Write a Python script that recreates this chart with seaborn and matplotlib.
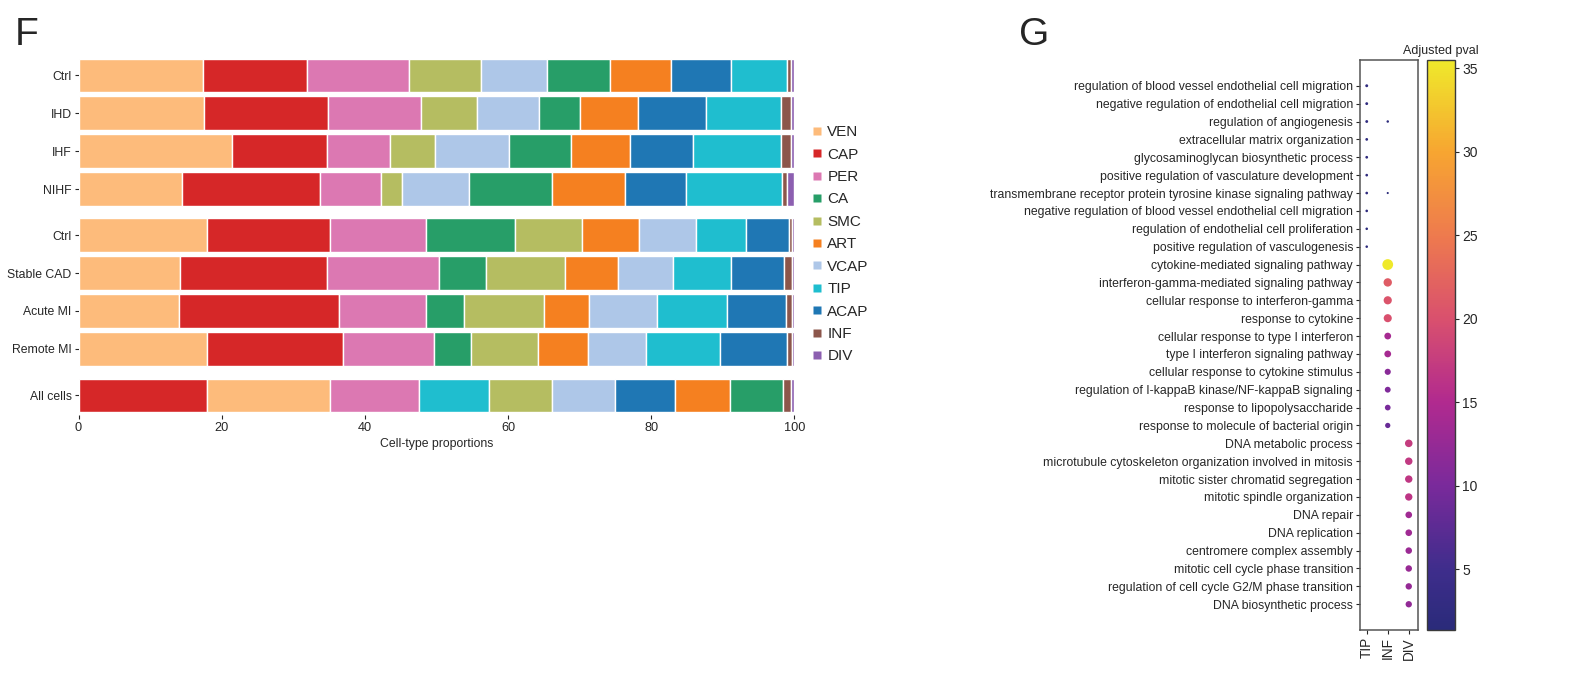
import numpy as np
import pandas as pd
import matplotlib
matplotlib.use("Agg")
import matplotlib.pyplot as plt
import seaborn as sns
from matplotlib.lines import Line2D
from matplotlib.colors import Normalize, LinearSegmentedColormap
from matplotlib.cm import ScalarMappable

# ---------------------------------------------------------------- data
cell_types = ["VEN", "CAP", "PER", "CA", "SMC", "ART", "VCAP", "TIP", "ACAP", "INF", "DIV"]
type_colors = ["#fdbb7b", "#d62728", "#dc78b2", "#279e68", "#b5bd61", "#f58020",
               "#aec7e8", "#1fbecf", "#1f77b4", "#8c564b", "#8c5fb0"]

# heart-failure cohort (stack order shared by its four conditions)
hf_order = ["VEN", "CAP", "PER", "SMC", "VCAP", "CA", "ART", "ACAP", "TIP", "INF", "DIV"]
hf_ctrl = [17.4, 14.5, 14.3, 10.1, 9.2, 8.8, 8.5, 8.4, 7.8, 0.5, 0.5]
hf_ihd = [17.6, 17.2, 13.0, 7.9, 8.6, 5.8, 8.1, 9.5, 10.5, 1.3, 0.5]
hf_ihf = [21.4, 13.3, 8.8, 6.3, 10.4, 8.6, 8.3, 8.8, 12.2, 1.5, 0.4]
hf_nihf = [14.5, 19.2, 8.5, 3.0, 9.3, 11.6, 10.2, 8.6, 13.4, 0.7, 1.0]

# myocardial-infarction cohort
mi_order = ["VEN", "CAP", "PER", "CA", "SMC", "ART", "VCAP", "TIP", "ACAP", "INF", "DIV"]
mi_ctrl = [18.0, 17.2, 13.3, 12.5, 9.3, 8.0, 7.9, 7.0, 6.1, 0.4, 0.3]
mi_stable_cad = [14.2, 20.5, 15.7, 6.5, 11.0, 7.5, 7.6, 8.1, 7.4, 1.2, 0.3]
mi_acute = [14.0, 22.4, 12.2, 5.3, 11.2, 6.2, 9.5, 9.8, 8.3, 0.8, 0.3]
mi_remote = [17.9, 19.1, 12.6, 5.3, 9.3, 7.0, 8.1, 10.3, 9.4, 0.7, 0.3]

# pooled
all_order = ["CAP", "VEN", "PER", "TIP", "SMC", "VCAP", "ACAP", "ART", "CA", "INF", "DIV"]
all_cells = [17.9, 17.2, 12.4, 9.8, 8.9, 8.8, 8.3, 7.7, 7.4, 1.1, 0.5]

row_labels = ["Ctrl", "IHD", "IHF", "NIHF", "Ctrl", "Stable CAD", "Acute MI", "Remote MI", "All cells"]

# GO enrichment per cell type (-log10 adjusted p)
tip_terms = ["regulation of blood vessel endothelial cell migration",
             "negative regulation of endothelial cell migration",
             "regulation of angiogenesis",
             "extracellular matrix organization",
             "glycosaminoglycan biosynthetic process",
             "positive regulation of vasculature development",
             "transmembrane receptor protein tyrosine kinase signaling pathway",
             "negative regulation of blood vessel endothelial cell migration",
             "regulation of endothelial cell proliferation",
             "positive regulation of vasculogenesis"]
tip_scores = [2.6, 2.5, 2.5, 2.3, 2.3, 2.2, 2.2, 2.1, 2.0, 2.0]

inf_terms = ["cytokine-mediated signaling pathway",
             "interferon-gamma-mediated signaling pathway",
             "cellular response to interferon-gamma",
             "response to cytokine",
             "cellular response to type I interferon",
             "type I interferon signaling pathway",
             "cellular response to cytokine stimulus",
             "regulation of I-kappaB kinase/NF-kappaB signaling",
             "response to lipopolysaccharide",
             "response to molecule of bacterial origin"]
inf_scores = [35.5, 21.5, 20.5, 20.0, 14.0, 14.0, 11.5, 10.5, 10.0, 8.5]

div_terms = ["DNA metabolic process",
             "microtubule cytoskeleton organization involved in mitosis",
             "mitotic sister chromatid segregation",
             "mitotic spindle organization",
             "DNA repair",
             "DNA replication",
             "centromere complex assembly",
             "mitotic cell cycle phase transition",
             "regulation of cell cycle G2/M phase transition",
             "DNA biosynthetic process"]
div_scores = [17.5, 17.0, 16.8, 16.5, 13.5, 13.5, 13.0, 12.8, 12.5, 12.3]

inf_extra_terms = ["regulation of angiogenesis",
                   "transmembrane receptor protein tyrosine kinase signaling pathway"]
inf_extra_scores = [1.9, 1.37]

dot_groups = ["TIP", "INF", "DIV"]

# muted plasma-like ramp used for the enrichment scores
score_cmap = LinearSegmentedColormap.from_list(
    "muted_plasma",
    [(0.0, "#2a2b7a"), (0.106, "#3f2d8c"), (0.253, "#7a2a9b"), (0.399, "#b12a8f"),
     (0.546, "#d9506e"), (0.692, "#ee7a4e"), (0.839, "#f7a531"), (1.0, "#efe92b")])

# ---------------------------------------------------------------- style
sns.set_theme(style="ticks")
plt.rcParams["font.family"] = ["Liberation Sans", "DejaVu Sans"]
plt.rcParams.update({
    "text.color": "#262626", "axes.labelcolor": "#262626",
    "xtick.color": "#262626", "ytick.color": "#262626",
    "axes.edgecolor": "#3a3a3a",
})
SMALL = 8.8

fig = plt.figure(figsize=(15.71, 6.74), dpi=100)

# ---------------------------------------------------------------- panel F
ax = fig.add_axes([78.5 / 1571, 1 - 415 / 674, (794.3 - 78.5) / 1571, (415 - 57) / 674])
color_of = dict(zip(cell_types, type_colors))
rows = [(hf_order, hf_ctrl), (hf_order, hf_ihd), (hf_order, hf_ihf), (hf_order, hf_nihf),
        (mi_order, mi_ctrl), (mi_order, mi_stable_cad), (mi_order, mi_acute), (mi_order, mi_remote),
        (all_order, all_cells)]
y_pos = [0, 1, 2, 3, 4.21, 5.21, 6.21, 7.21, 8.43]

for yp, (order, vals) in zip(y_pos, rows):
    left = np.concatenate([[0], np.cumsum(vals)[:-1]])
    ax.barh([yp] * len(vals), vals, left=left, height=0.88,
            color=[color_of[c] for c in order], edgecolor="white", linewidth=1.0)

ax.set_xlim(0, 100)
ax.set_ylim(8.95, -0.48)
ax.set_yticks(y_pos)
ax.set_yticklabels(row_labels, fontsize=SMALL)
ax.set_xticks([0, 20, 40, 60, 80, 100])
ax.tick_params(axis="x", labelsize=SMALL + 0.4, length=3, width=0.8, pad=2)
ax.tick_params(axis="y", length=3, width=0.8, pad=2)
ax.set_xlabel("Cell-type proportions", fontsize=SMALL, labelpad=3)
for s in ax.spines.values():
    s.set_visible(False)

handles = [Line2D([0], [0], marker="s", linestyle="none", markersize=5.5,
                  markerfacecolor=c, markeredgecolor="none") for c in type_colors]
fig.legend(handles, cell_types, loc="center left", bbox_to_anchor=(810.5 / 1571, 1 - 244.3 / 674),
           frameon=False, fontsize=11, handlelength=0.8, handletextpad=0.3,
           labelspacing=0.55, borderpad=0, borderaxespad=0)

fig.text(15 / 1571, 1 - 45 / 674, "F", fontsize=28, va="baseline", ha="left")
fig.text(1019 / 1571, 1 - 45 / 674, "G", fontsize=28, va="baseline", ha="left")

# ---------------------------------------------------------------- panel G
dots = pd.DataFrame({
    "term": tip_terms + inf_terms + div_terms + inf_extra_terms,
    "group": ["TIP"] * len(tip_terms) + ["INF"] * len(inf_terms) + ["DIV"] * len(div_terms)
             + ["INF"] * len(inf_extra_terms),
    "score": tip_scores + inf_scores + div_scores + inf_extra_scores,
})
term_order = tip_terms + inf_terms + div_terms
dots["row"] = dots["term"].map({t: i for i, t in enumerate(term_order)})
dots["col"] = dots["group"].map({g: i for i, g in enumerate(dot_groups)})

vmin, vmax = dots["score"].min(), dots["score"].max()
axg = fig.add_axes([1360 / 1571, 1 - 630 / 674, (1418 - 1360) / 1571, (630 - 60) / 674])
sns.scatterplot(data=dots, x="col", y="row", hue="score", size="score",
                palette=score_cmap, hue_norm=(vmin, vmax),
                sizes=(0, 61), size_norm=(0, 36), linewidth=0, legend=False, ax=axg)
axg.set_xlim(-0.32, 2.44)
axg.set_ylim(30.44, -1.44)
axg.set_yticks(range(len(term_order)))
axg.set_yticklabels(term_order, fontsize=SMALL)
axg.set_xticks(range(len(dot_groups)))
axg.set_xticklabels(dot_groups, fontsize=9.8, rotation=90)
axg.set_xlabel("")
axg.set_ylabel("")
axg.tick_params(length=3, width=0.8, pad=2)
for s in axg.spines.values():
    s.set_color("#555555")
    s.set_linewidth(1.1)

cax = fig.add_axes([1427 / 1571, 1 - 630 / 674, (1455 - 1427) / 1571, (630 - 60) / 674])
sm = ScalarMappable(norm=Normalize(vmin, vmax), cmap=score_cmap)
cb = fig.colorbar(sm, cax=cax, ticks=[5, 10, 15, 20, 25, 30, 35])
cb.outline.set_linewidth(1.0)
cb.outline.set_edgecolor("#3a3a3a")
cax.tick_params(labelsize=10, length=3, width=0.8, pad=2)
cax.set_title("Adjusted pval", fontsize=9, pad=4)

fig.savefig("out.png", dpi=100)
